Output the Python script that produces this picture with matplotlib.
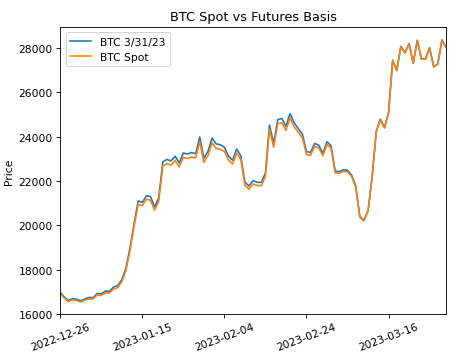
import matplotlib
matplotlib.use("Agg")
import matplotlib.pyplot as plt
import matplotlib.dates as mdates
import pandas as pd

# daily closes, 2022-12-26 .. 2023-03-30
dates = pd.date_range("2022-12-26", "2023-03-30", freq="D")

spot = [16900, 16710, 16550, 16640, 16610, 16540, 16620, 16680, 16670, 16850,
        16830, 16950, 16940, 17120, 17180, 17440, 17940, 18850, 19930, 20950,
        20880, 21170, 21130, 20680, 21070, 22670, 22780, 22710, 22920, 22630,
        23060, 23010, 23080, 23030, 23770, 22840, 23140, 23720, 23470, 23430,
        23330, 22940, 22760, 23260, 22960, 21800, 21630, 21860, 21790, 21780,
        22200, 24330, 23520, 24570, 24630, 24280, 24840, 24440, 24190, 23950,
        23190, 23160, 23560, 23490, 23140, 23650, 23470, 22360, 22350, 22430,
        22410, 22200, 21720, 20360, 20190, 20630, 22160, 24200, 24750, 24380,
        25050, 27420, 26970, 28040, 27770, 28180, 27300, 28330, 27490, 27490,
        27990, 27140, 27270, 28350, 28030]

fut_0331 = [16960, 16760, 16600, 16690, 16660, 16590, 16670, 16740, 16730, 16920,
            16900, 17030, 17020, 17210, 17270, 17540, 18050, 18970, 20060, 21100,
            21030, 21330, 21290, 20830, 21230, 22860, 22970, 22900, 23110, 22810,
            23260, 23210, 23280, 23230, 23980, 23020, 23330, 23930, 23670, 23630,
            23520, 23120, 22930, 23440, 23130, 21950, 21770, 22010, 21940, 21930,
            22360, 24520, 23690, 24760, 24820, 24460, 25040, 24620, 24360, 24110,
            23320, 23290, 23690, 23610, 23250, 23770, 23580, 22440, 22420, 22500,
            22480, 22260, 21770, 20400, 20220, 20660, 22200, 24240, 24790, 24410,
            25080, 27450, 27000, 28070, 27790, 28200, 27320, 28350, 27510, 27510,
            28010, 27150, 27280, 28360, 28040]

tick_dates = pd.date_range("2022-12-26", periods=5, freq="20D")

fig, ax = plt.subplots(figsize=(6.116, 4.606), dpi=77.5)
fig.subplots_adjust(left=0.127, right=0.941, top=0.922, bottom=0.118)

ax.plot(dates, fut_0331, label="BTC 3/31/23")
ax.plot(dates, spot, label="BTC Spot")

ax.set_xlim(dates[0], dates[-1])
ax.set_ylim(16000, 28950)
ax.set_xticks(tick_dates)
ax.xaxis.set_major_formatter(mdates.DateFormatter("%Y-%m-%d"))

# labels centred under the tick, as older matplotlib did
try:
    ax.tick_params(axis="x", labelrotation=20, labelrotation_mode="default")
except (ValueError, TypeError, AttributeError):
    ax.tick_params(axis="x", labelrotation=20)
for lab in ax.get_xticklabels():
    lab.set_rotation_mode("default")
    lab.set_horizontalalignment("center")

ax.set_title("BTC Spot vs Futures Basis")
ax.set_ylabel("Price")
ax.legend(loc="upper left")

fig.savefig("out.png")
